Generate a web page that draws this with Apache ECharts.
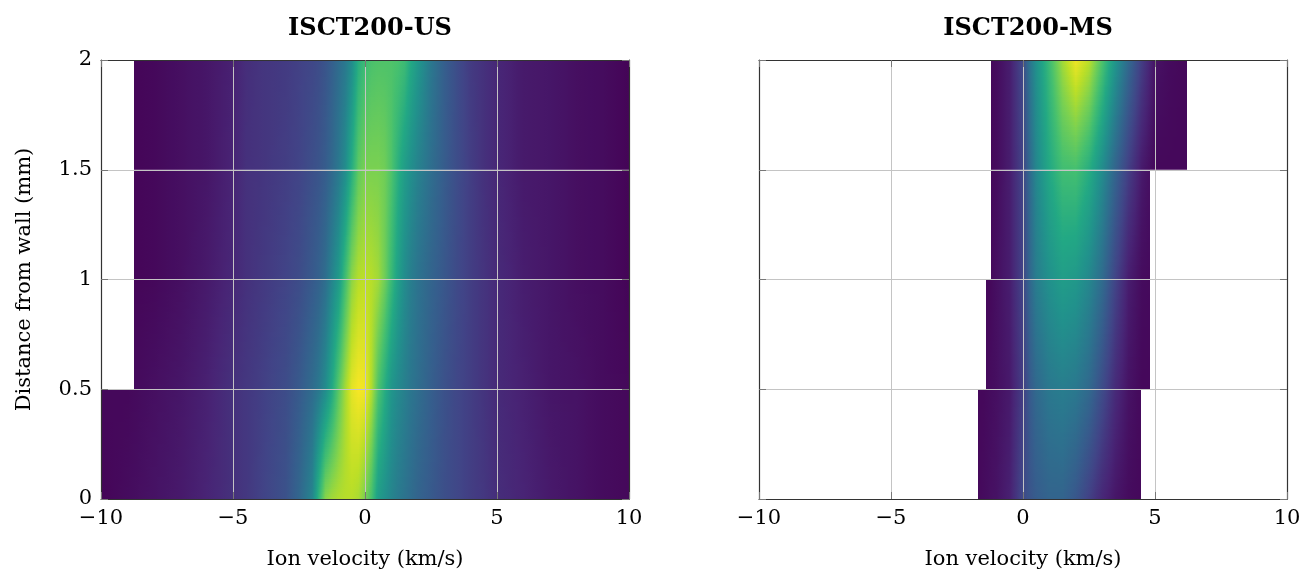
<!DOCTYPE html>
<html><head><meta charset="utf-8">
<script src="https://cdn.jsdelivr.net/npm/echarts@6/dist/echarts.min.js"></script>
<style>html,body{margin:0;padding:0;background:#fff}#chart{width:1304px;height:571px}</style>
</head><body><div id="chart"></div>
<script>
// ---------- data ----------
const panelTitles = ['ISCT200-US', 'ISCT200-MS'];
const xAxisName = 'Ion velocity (km/s)';
const yAxisName = 'Distance from wall (mm)';
const rowY = [0, 0.5, 1, 1.5, 2];          // distance rows (mm)

// ISCT200-US : normalised intensity sampled along velocity (km/s)
const xUS  = [-10,-9,-8,-7,-6,-5,-4.5,-4,-3,-2.5,-2,-1.75,-1.5,-1.25,-1,-0.75,-0.5,-0.25,0,0.25,0.5,0.75,1,1.25,1.5,1.75,2,2.5,3,3.5,4,4.5,5,6,7,8,9,10];
const usY0  = [0.01,0.03,0.05,0.07,0.10,0.14,0.16,0.19,0.25,0.33,0.45,0.65,0.82,0.86,0.88,0.89,0.89,0.87,0.80,0.70,0.55,0.50,0.45,0.41,0.38,0.35,0.32,0.28,0.24,0.21,0.18,0.16,0.13,0.10,0.07,0.05,0.03,0.02];
const usY05 = [0.02,0.02,0.04,0.06,0.09,0.14,0.16,0.18,0.23,0.28,0.35,0.40,0.48,0.60,0.74,0.86,0.96,0.99,0.98,0.88,0.72,0.62,0.52,0.47,0.43,0.39,0.36,0.30,0.25,0.21,0.18,0.15,0.12,0.09,0.06,0.05,0.03,0.02];
const usY10 = [0.01,0.01,0.02,0.04,0.07,0.11,0.14,0.16,0.20,0.23,0.28,0.31,0.36,0.45,0.54,0.69,0.83,0.89,0.90,0.89,0.86,0.78,0.67,0.56,0.48,0.42,0.38,0.32,0.27,0.22,0.18,0.15,0.12,0.08,0.06,0.04,0.03,0.01];
const usY15 = [0.01,0.01,0.02,0.04,0.06,0.10,0.14,0.15,0.18,0.20,0.24,0.26,0.29,0.34,0.40,0.48,0.62,0.75,0.80,0.80,0.80,0.78,0.72,0.63,0.55,0.49,0.44,0.36,0.29,0.23,0.18,0.14,0.11,0.07,0.06,0.04,0.03,0.01];
const usY20 = [0.01,0.01,0.02,0.04,0.06,0.09,0.13,0.15,0.17,0.19,0.21,0.23,0.26,0.30,0.35,0.40,0.48,0.62,0.68,0.71,0.72,0.72,0.72,0.71,0.68,0.60,0.53,0.40,0.30,0.23,0.17,0.14,0.11,0.07,0.06,0.04,0.03,0.01];
const usBandXMin = [-10, -8.74, -8.74, -8.74];
const usBandXMax = [10, 10, 10, 10];

// ISCT200-MS
const xMS   = [-1.75,-1.5,-1.25,-1,-0.5,0,0.25,0.5,1,1.5,2,2.5,3,3.5,4,4.5,5,5.5,6,6.25];
const msY0  = [0.02,0.03,0.04,0.05,0.09,0.22,0.26,0.29,0.32,0.32,0.27,0.19,0.11,0.06,0.03,0.02,0.02,0.02,0.02,0.02];
const msY05 = [0.02,0.02,0.03,0.04,0.07,0.18,0.28,0.34,0.40,0.42,0.40,0.34,0.23,0.12,0.05,0.02,0.02,0.02,0.02,0.02];
const msY10 = [0.02,0.02,0.02,0.04,0.08,0.20,0.33,0.42,0.50,0.55,0.53,0.46,0.35,0.20,0.08,0.03,0.02,0.02,0.02,0.02];
const msY15 = [0.02,0.02,0.02,0.03,0.08,0.20,0.34,0.46,0.60,0.69,0.70,0.62,0.48,0.32,0.18,0.07,0.02,0.02,0.02,0.02];
const msY20 = [0.02,0.02,0.02,0.03,0.08,0.22,0.38,0.50,0.68,0.86,0.98,0.90,0.72,0.52,0.34,0.18,0.05,0.03,0.02,0.02];
const msBandXMin = [-1.71, -1.4, -1.21, -1.21];
const msBandXMax = [4.47, 4.82, 4.82, 6.23];

// ---------- styling ----------
const viridis = ['#440154','#482475','#414487','#355f8d','#2a788e','#21918c','#22a884','#44bf70','#7ad151','#bddf26','#fde725'];
const FONT = 'DejaVu Serif';

function hexToRgb(h){ return [parseInt(h.substr(1,2),16), parseInt(h.substr(3,2),16), parseInt(h.substr(5,2),16)]; }
const viridisRgb = viridis.map(hexToRgb);
function cmap(v) {
  v = Math.max(0, Math.min(1, v));
  if (echarts.color && echarts.color.lerp) return echarts.color.lerp(v, viridis);
  const p = v * (viridisRgb.length - 1), i = Math.min(Math.floor(p), viridisRgb.length - 2), f = p - i;
  const a = viridisRgb[i], b = viridisRgb[i + 1];
  return 'rgb(' + [0,1,2].map(k => Math.round(a[k] + (b[k] - a[k]) * f)).join(',') + ')';
}

function makeRender(xs, rows) {
  const sub = 4;
  const samples = [];
  for (let i = 0; i < xs.length - 1; i++) {
    for (let s = 0; s < sub; s++) {
      const f = s / sub;
      samples.push({ x: xs[i] + (xs[i + 1] - xs[i]) * f, i: i, f: f });
    }
  }
  samples.push({ x: xs[xs.length - 1], i: xs.length - 2, f: 1 });
  return function (params, api) {
    const yLo = api.value(0), yHi = api.value(1), xMin = api.value(2), xMax = api.value(3), b = api.value(4);
    const lo = rows[b], hi = rows[b + 1];
    const pA = api.coord([xMin, yLo]), pB = api.coord([xMax, yHi]);
    const left = Math.round(pA[0]), right = Math.round(pB[0]), bottom = pA[1], top = pB[1];
    const w = right - left, h = bottom - top;
    const n = Math.max(1, Math.round(h / 2.5));
    const children = [];
    for (let k = 0; k < n; k++) {
      const t = 1 - (k + 0.5) / n;
      const stops = [];
      for (const sm of samples) {
        if (sm.x < xMin - 1e-9 || sm.x > xMax + 1e-9) continue;
        const vl = lo[sm.i] + (lo[sm.i + 1] - lo[sm.i]) * sm.f;
        const vh = hi[sm.i] + (hi[sm.i + 1] - hi[sm.i]) * sm.f;
        const v = vl + (vh - vl) * t;
        const px = api.coord([sm.x, yLo])[0];
        stops.push({ offset: Math.max(0, Math.min(1, (px - left) / w)), color: cmap(v) });
      }
      const y0 = k === 0 ? top : Math.round(top + k * h / n);
      const y1 = k === n - 1 ? bottom : Math.round(top + (k + 1) * h / n) + 1;
      children.push({
        type: 'rect', silent: true,
        shape: { x: left, y: y0, width: w, height: y1 - y0 },
        style: { fill: new echarts.graphic.LinearGradient(0, 0, 1, 0, stops) }
      });
    }
    return { type: 'group', children: children };
  };
}

function bandData(xMinArr, xMaxArr) {
  const d = [];
  for (let b = 0; b < rowY.length - 1; b++) d.push([rowY[b], rowY[b + 1], xMinArr[b], xMaxArr[b], b]);
  return d;
}

const chart = echarts.init(document.getElementById('chart'), null, { renderer: 'canvas' });
const fmtMinus = v => (v < 0 ? '\u2212' + Math.abs(v) : String(v));
const gridCfg = [
  { left: 101, top: 60, width: 528, height: 439, outerBoundsMode: 'none', containLabel: false },
  { left: 759, top: 60, width: 528, height: 439, outerBoundsMode: 'none', containLabel: false }
];
const axisLineStyle = { color: '#333', width: 1.2 };
const tickStyle = { color: '#777', width: 1 };
const splitStyle = { color: '#c4c4c4', width: 1 };

const xAxes = [], yAxes = [];
[0, 1].forEach(g => {
  xAxes.push({
    type: 'value', gridIndex: g, position: 'bottom', min: -10, max: 10, interval: 5, z: 5,
    name: xAxisName, nameLocation: 'middle', nameGap: 50,
    nameTextStyle: { fontFamily: FONT, fontSize: 21, color: '#000' },
    axisLine: { show: true, onZero: false, lineStyle: axisLineStyle },
    axisTick: { show: true, inside: true, length: 7, lineStyle: tickStyle },
    axisLabel: { fontFamily: FONT, fontSize: 21, color: '#000', margin: 9, formatter: fmtMinus },
    splitLine: { show: true, lineStyle: splitStyle }
  });
  xAxes.push({
    type: 'value', gridIndex: g, position: 'top', min: -10, max: 10, interval: 5, z: 5,
    axisLine: { show: true, onZero: false, lineStyle: axisLineStyle },
    axisTick: { show: true, inside: true, length: 7, lineStyle: tickStyle },
    axisLabel: { show: false }, splitLine: { show: false }
  });
  yAxes.push({
    type: 'value', gridIndex: g, position: 'left', min: 0, max: 2, interval: 0.5, z: 5,
    name: g === 0 ? yAxisName : '', nameLocation: 'middle', nameGap: 66,
    nameTextStyle: { fontFamily: FONT, fontSize: 21, color: '#000' },
    axisLine: { show: true, onZero: false, lineStyle: axisLineStyle },
    axisTick: { show: true, inside: true, length: 7, lineStyle: tickStyle },
    axisLabel: { show: g === 0, fontFamily: FONT, fontSize: 21, color: '#000', margin: 9 },
    splitLine: { show: true, lineStyle: splitStyle }
  });
  yAxes.push({
    type: 'value', gridIndex: g, position: 'right', min: 0, max: 2, interval: 0.5, z: 5,
    axisLine: { show: true, onZero: false, lineStyle: axisLineStyle },
    axisTick: { show: true, inside: true, length: 7, lineStyle: tickStyle },
    axisLabel: { show: false }, splitLine: { show: false }
  });
});

chart.setOption({
  backgroundColor: '#fff',
  animation: false,
  title: [
    { text: panelTitles[0], left: 365, top: 12, textAlign: 'center',
      textStyle: { fontFamily: FONT, fontSize: 24, fontWeight: 'bold', color: '#000' } },
    { text: panelTitles[1], left: 1023, top: 12, textAlign: 'center',
      textStyle: { fontFamily: FONT, fontSize: 24, fontWeight: 'bold', color: '#000' } }
  ],
  grid: gridCfg,
  xAxis: xAxes,
  yAxis: yAxes,
  series: [
    { type: 'custom', name: panelTitles[0], xAxisIndex: 0, yAxisIndex: 0, z: 1, clip: true,
      renderItem: makeRender(xUS, [usY0, usY05, usY10, usY15, usY20]),
      encode: { x: [2, 3], y: [0, 1] },
      data: bandData(usBandXMin, usBandXMax) },
    { type: 'custom', name: panelTitles[1], xAxisIndex: 2, yAxisIndex: 2, z: 1, clip: true,
      renderItem: makeRender(xMS, [msY0, msY05, msY10, msY15, msY20]),
      encode: { x: [2, 3], y: [0, 1] },
      data: bandData(msBandXMin, msBandXMax) }
  ]
});
</script></body></html>
